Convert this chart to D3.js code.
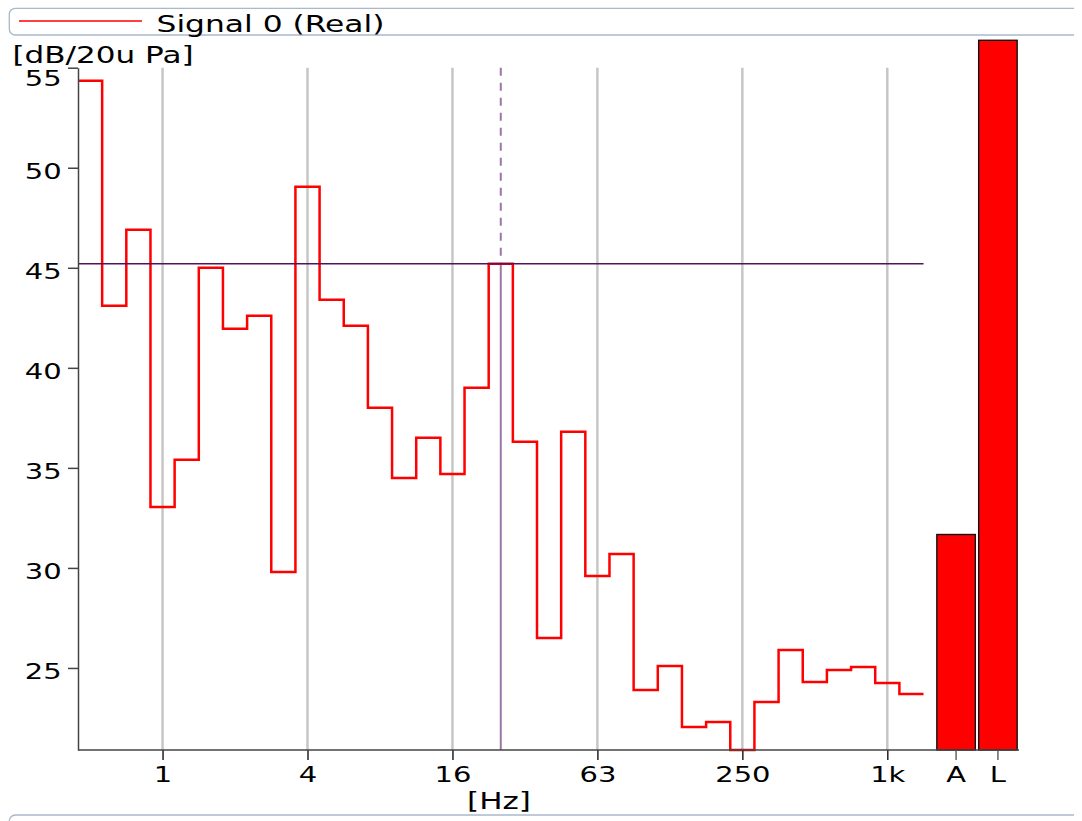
<!DOCTYPE html>
<html>
<head>
<meta charset="utf-8">
<script src="https://cdn.jsdelivr.net/npm/d3@7"></script>
<style>
  html, body { margin: 0; padding: 0; background: #fff; }
  svg { display: block; }
  text { font-family: "DejaVu Sans", Verdana, sans-serif; fill: #000; }
</style>
</head>
<body>
<svg id="chart" width="1082" height="821"></svg>
<script>
// 1/3-octave band levels (dB re 20 µPa)
const bandLabels = ["0.5","0.63","0.8","1","1.25","1.6","2","2.5","3.15","4","5","6.3","8","10","12.5","16","20","25","31.5","40","50","63","80","100","125","160","200","250","315","400","500","630","800","1k","1.25k"];
const bandLevels = [54.35,43.1,46.9,33.05,35.4,45.0,41.95,42.6,29.8,49.05,43.4,42.1,38.0,34.5,36.5,34.7,39.0,45.2,36.3,26.5,36.8,29.6,30.7,23.9,25.1,22.05,22.3,20.6,23.3,25.9,24.3,24.9,25.05,24.25,23.7];
const firstBandIndex = -3;           // 0.5 Hz = 2^(-3/3)

// overall levels
const summaryKeys = ["A", "L"];
const summaryLevels = [31.67, 56.37];

// axis ticks
const freqTicks = [1, 4, 16, 64, 256, 1024];
const freqTickLabels = ["1", "4", "16", "63", "250", "1k"];
const levelTicks = [25, 30, 35, 40, 45, 50, 55];

// cursor
const cursorBand = "25";
const cursorLevel = 45.2;

const seriesName = "Signal 0 (Real)";
const yTitle = "[dB/20u Pa]";
const xTitle = "[Hz]";

const SX = 1.38; // horizontal text stretch
const svg = d3.select("#chart");

const plot = { left: 78, right: 1019, top: 67.7, bottom: 750 };

const bandCenter = i => Math.pow(2, (firstBandIndex + i) / 3);
const bandEdge = (i, s) => Math.pow(2, (firstBandIndex + i + s * 0.5) / 3);

const x = d3.scaleLog().base(2)
  .domain([bandEdge(0, -1), 1024])
  .range([plot.left, 887.3]);

const y = d3.scaleLinear().domain([20.9, 55]).range([plot.bottom, plot.top]).clamp(true);
const yFree = d3.scaleLinear().domain([20.9, 55]).range([plot.bottom, plot.top]);

const xs = d3.scaleBand().domain(summaryKeys).range([936, 1018]).paddingInner(0.08).paddingOuter(0.02);

function stretchedText(parent, px, py, str, size, anchor) {
  const g = parent.append("g").attr("transform", `translate(${px},${py}) scale(${SX},1)`);
  g.append("text").attr("text-anchor", anchor || "start").style("font-size", size + "px").text(str);
  return g;
}

// open frame: rounded left corners, top and bottom edges
function openFrame(x0, y0, x1, y1, r) {
  const p = d3.path();
  p.moveTo(x1, y0);
  p.lineTo(x0 + r, y0);
  p.arcTo(x0, y0, x0, y0 + r, r);
  p.lineTo(x0, y1 - r);
  p.arcTo(x0, y1, x0 + r, y1, r);
  p.lineTo(x1, y1);
  return p.toString();
}

// legend frame
svg.append("path").attr("d", openFrame(9.3, 8.3, 1074, 35, 6))
  .attr("fill", "none").attr("stroke", "#a9b9ca").attr("stroke-width", 1.3);
svg.append("line").attr("x1", 19).attr("x2", 142).attr("y1", 21).attr("y2", 21)
  .attr("stroke", "#ff0000").attr("stroke-width", 1.6);
stretchedText(svg, 156.5, 31.5, seriesName, 22.7, "start");

// bottom frame
svg.append("path").attr("d", openFrame(9.3, 815, 1074, 850, 6))
  .attr("fill", "none").attr("stroke", "#a9b9ca").attr("stroke-width", 1.3);

// vertical grid
svg.append("g").selectAll("line").data(freqTicks).join("line")
  .attr("x1", d => x(d)).attr("x2", d => x(d))
  .attr("y1", plot.top).attr("y2", plot.bottom)
  .attr("stroke", "#c6c6c6").attr("stroke-width", 2.5);

// cursor
const ci = bandLabels.indexOf(cursorBand);
const cx = x(bandCenter(ci));
const lastEdge = x(bandEdge(bandLabels.length - 1, 1));
svg.append("line").attr("x1", cx).attr("x2", cx).attr("y1", plot.top).attr("y2", y(cursorLevel))
  .attr("stroke", "#9c76a6").attr("stroke-width", 2).attr("stroke-dasharray", "8,7");
svg.append("line").attr("x1", cx).attr("x2", cx).attr("y1", y(cursorLevel)).attr("y2", plot.bottom)
  .attr("stroke", "#9c76a6").attr("stroke-width", 2);

// band level step line
const pts = [];
bandLevels.forEach((v, i) => {
  pts.push([x(bandEdge(i, -1)), y(v)]);
  pts.push([x(bandEdge(i, 1)), y(v)]);
});
svg.append("path").attr("d", d3.line()(pts))
  .attr("fill", "none").attr("stroke", "#ff0000").attr("stroke-width", 2.5)
  .attr("stroke-linejoin", "miter");

svg.append("line").attr("x1", plot.left).attr("x2", lastEdge)
  .attr("y1", y(cursorLevel)).attr("y2", y(cursorLevel))
  .attr("stroke", "#54125c").attr("stroke-width", 1.5);

// overall bars
svg.append("g").selectAll("rect").data(summaryLevels).join("rect")
  .attr("x", (d, i) => xs(summaryKeys[i]))
  .attr("width", xs.bandwidth())
  .attr("y", d => yFree(d))
  .attr("height", d => plot.bottom - yFree(d))
  .attr("fill", "#ff0000").attr("stroke", "#111").attr("stroke-width", 1.4);

// y axis
const yAxis = svg.append("g").attr("transform", `translate(${plot.left},0)`)
  .call(d3.axisLeft(y).tickValues(levelTicks).tickSize(10).tickSizeOuter(0).tickFormat(d3.format("d")));
yAxis.select(".domain").attr("stroke", "#444").attr("stroke-width", 1.5);
yAxis.selectAll(".tick line").attr("stroke", "#444").attr("stroke-width", 1.5);
yAxis.selectAll(".tick text")
  .attr("x", -16.3 / SX).attr("dy", null)
  .attr("y", d => d === 55 ? 17.3 : 10.5)
  .attr("transform", `scale(${SX},1)`)
  .style("font-size", "21px").style("font-family", null).attr("fill", "#000");

// x axis (frequency)
const xAxis = svg.append("g").attr("transform", `translate(0,${plot.bottom})`)
  .call(d3.axisBottom(x).tickValues(freqTicks).tickSize(10).tickSizeOuter(0)
    .tickFormat((d, i) => freqTickLabels[i]));
xAxis.select(".domain").remove();
xAxis.selectAll(".tick line").attr("stroke", "#222").attr("stroke-width", 1.5);
xAxis.selectAll(".tick text").attr("y", 32.5).attr("dy", null)
  .attr("transform", `scale(${SX},1)`)
  .style("font-size", "21px").style("font-family", null).attr("fill", "#000");

// x axis (overall levels)
const sAxis = svg.append("g").attr("transform", `translate(0,${plot.bottom})`)
  .call(d3.axisBottom(xs).tickSize(10).tickSizeOuter(0));
sAxis.select(".domain").remove();
sAxis.selectAll(".tick line").attr("stroke", "#666").attr("stroke-width", 1.5);
sAxis.selectAll(".tick text").attr("y", 32.5).attr("dy", null)
  .attr("transform", `scale(${SX},1)`)
  .style("font-size", "21px").style("font-family", null).attr("fill", "#000");

// baseline
svg.append("line").attr("x1", plot.left).attr("x2", plot.right)
  .attr("y1", plot.bottom).attr("y2", plot.bottom)
  .attr("stroke", "#444").attr("stroke-width", 1.5);

// titles
stretchedText(svg, 12.5, 63, yTitle, 22.5, "start");
stretchedText(svg, 499, 809, xTitle, 22.5, "middle");
</script>
</body>
</html>
